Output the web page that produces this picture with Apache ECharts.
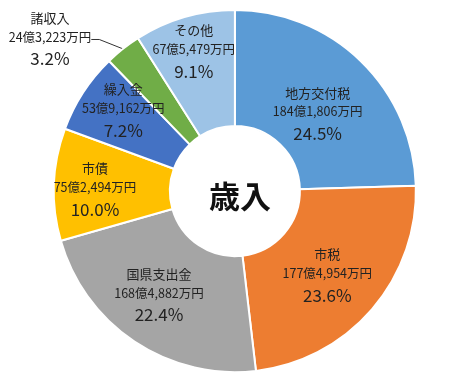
<!DOCTYPE html>
<html><head><meta charset="utf-8">
<script src="https://cdn.jsdelivr.net/npm/echarts@6/dist/echarts.min.js"></script>
<style>html,body{margin:0;padding:0;background:#fff}#c{width:450px;height:383px}</style>
</head><body><div id="c"></div>
<script>
const categories = ['地方交付税','市税','国県支出金','市債','繰入金','諸収入','その他'];
const amounts = [1841806, 1774954, 1684882, 752494, 539162, 243223, 675479]; // 万円
const percentLabels = ['24.5%','23.6%','22.4%','10.0%','7.2%','3.2%','9.1%'];
const colors = ['#5B9BD5','#ED7D31','#A5A5A5','#FFC000','#4472C4','#70AD47','#9DC3E6'];
const centerTitle = '歳入';

// label nudges (layout only)
const labelNudge = [[-5,14],[-3,3],[-6,0],[-14,4],[-6,-11],null,[-6,-18]];

function fmtAmount(v){
  const oku = Math.floor(v/10000);
  const man = v % 10000;
  return oku + '億' + man.toLocaleString('en-US') + '万円';
}
const FONT = '"Noto Sans CJK JP", "Noto Sans", sans-serif';
const chart = echarts.init(document.getElementById('c'), null, {renderer:'canvas'});
chart.setOption({
  animation:false,
  title:{text:centerTitle, left:'52.2%', top:'49.9%', textAlign:'center', textVerticalAlign:'middle',
    textStyle:{fontSize:31, fontWeight:'bold', color:'#111', fontFamily:FONT}},
  series:[{
    type:'pie', radius:[65,181], center:['52.2%','49.9%'], startAngle:90, clockwise:true,
    avoidLabelOverlap:false,
    itemStyle:{borderColor:'#fff', borderWidth:2},
    label:{show:true, position:'inside', formatter:p=>'{n|'+p.name+'}\n{v|'+fmtAmount(amounts[p.dataIndex])+'}\n{p|'+percentLabels[p.dataIndex]+'}',
      rich:{
        n:{fontSize:13, color:'#222', fontFamily:FONT, lineHeight:18, align:'center'},
        v:{fontSize:12.5, color:'#222', fontFamily:FONT, lineHeight:20, align:'center', letterSpacing:-0.3},
        p:{fontSize:17, color:'#222', fontFamily:FONT, lineHeight:24, align:'center'}
      }},
    labelLayout:function(params){
      if(params.dataIndex===5){
        return {x:50, y:40, align:'center', verticalAlign:'middle'};
      }
      const n = labelNudge[params.dataIndex];
      return n ? {dx:n[0], dy:n[1]} : {};
    },
    labelLine:{show:true, lineStyle:{color:'#333', width:1}},
    data:categories.map((c,i)=>{
      const d = {name:c, value:amounts[i], itemStyle:{color:colors[i]}};
      if(i===5){ d.label = {position:'outside'}; d.labelLine={show:true, length:8, length2:8}; }
      else { d.labelLine={show:false}; }
      return d;
    })
  }]
});
</script></body></html>
